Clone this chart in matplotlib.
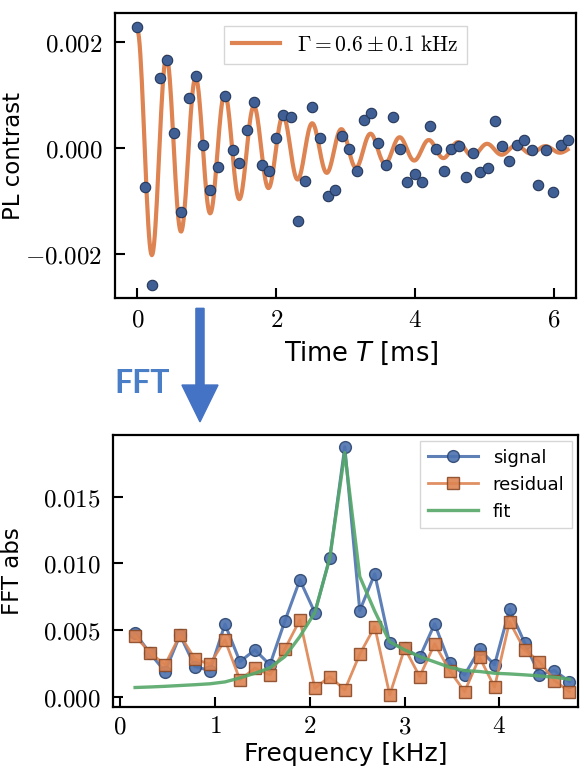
import numpy as np
import matplotlib
matplotlib.use("Agg")
import matplotlib.pyplot as plt
from matplotlib.ticker import FormatStrFormatter
from matplotlib.patches import FancyArrow

plt.rcParams['mathtext.fontset'] = 'cm'
plt.rcParams['font.family'] = 'DejaVu Sans'

# top panel: measured PL contrast vs time
time_ms = [0.00, 0.11, 0.21, 0.32, 0.42, 0.53, 0.63, 0.74, 0.84, 0.95,
           1.05, 1.16, 1.26, 1.37, 1.47, 1.58, 1.68, 1.79, 1.89, 2.00,
           2.10, 2.21, 2.31, 2.42, 2.52, 2.63, 2.74, 2.84, 2.95, 3.05,
           3.16, 3.26, 3.37, 3.47, 3.58, 3.68, 3.79, 3.89, 4.00, 4.10,
           4.21, 4.31, 4.42, 4.52, 4.63, 4.73, 4.84, 4.94, 5.05, 5.15,
           5.26, 5.36, 5.47, 5.57, 5.68, 5.78, 5.89, 5.99, 6.10, 6.20]
contrast = [0.00227, -0.00074, -0.00258, 0.00131, 0.00165, 0.00029, -0.00120, 0.00095, 0.00136, 0.00006,
            -0.00079, -0.00035, 0.00098, -0.00004, -0.00028, 0.00033, 0.00087, -0.00032, -0.00043, 0.00018,
            0.00062, 0.00058, -0.00137, -0.00062, 0.00078, 0.00019, -0.00091, -0.00078, 0.00023, -0.00002,
            -0.00043, 0.00053, 0.00065, 0.00010, -0.00031, 0.00058, -0.00002, -0.00063, -0.00049, -0.00064,
            0.00041, -0.00001, -0.00043, -0.00002, 0.00004, -0.00055, -0.00009, -0.00046, -0.00038, 0.00051,
            0.00004, -0.00024, 0.00006, 0.00016, -0.00004, -0.00069, -0.00004, -0.00083, 0.00006, 0.00016]

# damped cosine fit parameters
fit_amp = 0.00225
fit_freq = 2.38     # kHz
fit_gamma = 0.6     # kHz
fit_offset = -0.00003

# bottom panel: FFT magnitude
freq_khz = [0.158, 0.316, 0.474, 0.632, 0.790, 0.948, 1.106, 1.264, 1.422, 1.580,
            1.738, 1.896, 2.054, 2.212, 2.370, 2.528, 2.686, 2.844, 3.002, 3.160,
            3.318, 3.476, 3.634, 3.792, 3.950, 4.108, 4.266, 4.424, 4.582, 4.740]
signal = [0.00475, 0.00325, 0.00187, 0.00462, 0.00225, 0.00195, 0.00543, 0.00262, 0.00350, 0.00238,
          0.00567, 0.00875, 0.00630, 0.01040, 0.01874, 0.00645, 0.00920, 0.00400, 0.00363, 0.00295,
          0.00545, 0.00250, 0.00163, 0.00355, 0.00238, 0.00655, 0.00405, 0.00163, 0.00195, 0.00112]
residual = [0.00455, 0.00330, 0.00238, 0.00462, 0.00280, 0.00243, 0.00425, 0.00125, 0.00213, 0.00163,
            0.00357, 0.00575, 0.00063, 0.00150, 0.00050, 0.00318, 0.00525, 0.00013, 0.00363, 0.00150,
            0.00395, 0.00195, 0.00037, 0.00295, 0.00070, 0.00562, 0.00350, 0.00262, 0.00120, 0.00037]
fft_fit = [0.00068, 0.00072, 0.00077, 0.00083, 0.00089, 0.00096, 0.00110, 0.00140, 0.00175, 0.00215,
           0.00300, 0.00450, 0.00630, 0.01040, 0.01830, 0.00900, 0.00640, 0.00410, 0.00350, 0.00300,
           0.00260, 0.00220, 0.00195, 0.00188, 0.00175, 0.00170, 0.00163, 0.00155, 0.00145, 0.00130]

blue = '#4c72b0'
orange = '#dd8452'
green = '#55a868'

fig = plt.figure(figsize=(5.82, 7.67), dpi=100)
ax1 = fig.add_axes([0.1976, 0.6115, 0.7920, 0.3709])
ax2 = fig.add_axes([0.1945, 0.0779, 0.7986, 0.3550])

t_fine = np.linspace(0, max(time_ms), 600)
fit_curve = fit_amp * np.exp(-fit_gamma * t_fine) * np.cos(2 * np.pi * fit_freq * t_fine) + fit_offset
ax1.plot(t_fine, fit_curve, color=orange, lw=3.0,
         label=r'$\Gamma = 0.6 \pm 0.1\ \mathrm{kHz}$', zorder=2)
ax1.plot(time_ms, contrast, 'o', color='#3f5f95', mec='#26385a', mew=0.8, ms=7.5, zorder=3)
ax1.set_xlim(-0.324, 6.32)
ax1.set_ylim(-0.00282, 0.00253)
ax1.set_xticks([0, 2, 4, 6])
ax1.set_yticks([-0.002, 0, 0.002])
ax1.xaxis.set_major_formatter(FormatStrFormatter('$%d$'))
ax1.yaxis.set_major_formatter(FormatStrFormatter('$%.3f$'))
ax1.set_ylabel('PL contrast', fontsize=16.5)
ax1.yaxis.set_label_coords(-0.195, 0.5)
ax1.set_xlabel('Time $T$ [ms]', fontsize=18.5, math_fontfamily='dejavusans')
ax1.xaxis.set_label_coords(0.534, -0.148)
ax1.legend(loc='upper center', fontsize=15.5, handlelength=2.2, borderaxespad=0.6,
           fancybox=False, edgecolor='0.8')

ax2.plot(freq_khz, signal, '-o', color=blue, alpha=0.9, lw=2.2, ms=8.5,
         mec='#2c4670', mew=1.0, label='signal', zorder=2)
ax2.plot(freq_khz, residual, '-s', color=orange, alpha=0.9, lw=2.0, ms=8,
         mec='#8a4a26', mew=1.0, label='residual', zorder=3)
ax2.plot(freq_khz, fft_fit, '-', color=green, alpha=0.9, lw=2.4, label='fit', zorder=4)
ax2.set_xlim(-0.073, 4.83)
ax2.set_ylim(-0.0008, 0.01962)
ax2.set_xticks([0, 1, 2, 3, 4])
ax2.set_yticks([0, 0.005, 0.010, 0.015])
ax2.xaxis.set_major_formatter(FormatStrFormatter('$%d$'))
ax2.yaxis.set_major_formatter(FormatStrFormatter('$%.3f$'))
ax2.set_ylabel('FFT abs', fontsize=16.5)
ax2.yaxis.set_label_coords(-0.192, 0.5)
ax2.set_xlabel('Frequency [kHz]', fontsize=18)
ax2.xaxis.set_label_coords(0.5, -0.128)
ax2.legend(loc='upper right', fontsize=13, handlelength=2.8, borderaxespad=0.35,
           fancybox=False, edgecolor='0.8')

for ax in (ax1, ax2):
    for s in ax.spines.values():
        s.set_linewidth(1.6)
    ax.tick_params(direction='in', length=7, width=1.5, labelsize=18)
    ax.tick_params(axis='y', pad=9)
ax1.tick_params(axis='x', pad=7)
ax2.tick_params(axis='x', pad=5)

# FFT arrow between the panels
fig.patches.append(FancyArrow(0.3436, 0.598, 0, -0.148, width=0.014, head_width=0.062,
                              head_length=0.048, length_includes_head=True,
                              color='#4472c4', transform=fig.transFigure, figure=fig))
fig.text(0.244, 0.5, 'FFT', color='#4a7ec6', fontsize=23, fontweight='bold',
         family='Lato', ha='center', va='center')

fig.savefig('out.png', dpi=100)
